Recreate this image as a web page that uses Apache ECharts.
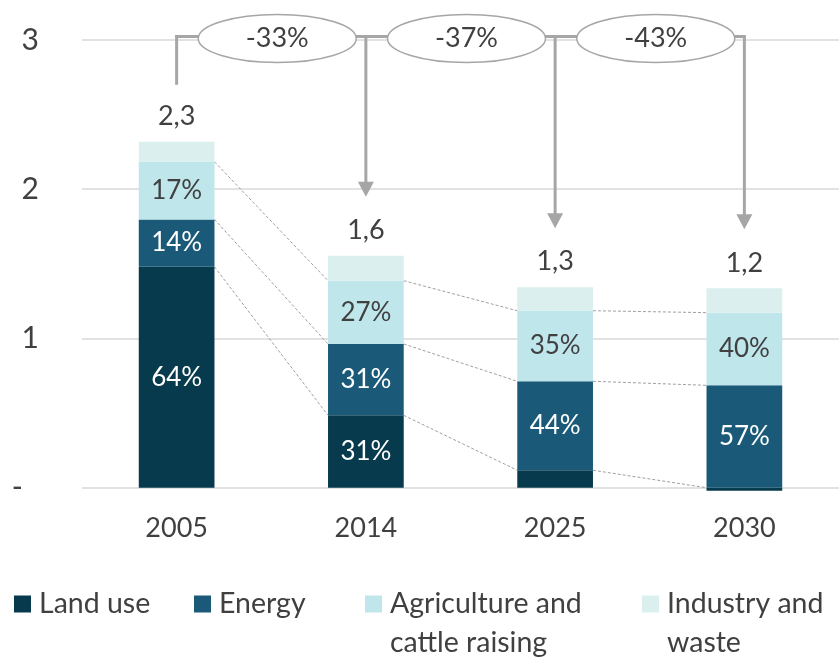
<!DOCTYPE html>
<html><head><meta charset="utf-8">
<script src="https://cdn.jsdelivr.net/npm/echarts@6/dist/echarts.min.js"></script>
<style>html,body{margin:0;padding:0;background:#fff}#c{width:839px;height:657px}</style>
</head><body><div id="c"></div>
<script>
const categories = ['2005', '2014', '2025', '2030'];
const landUse = [1.48, 0.485, 0.117, -0.02];
const energy = [0.318, 0.478, 0.596, 0.686];
const agriculture = [0.386, 0.424, 0.473, 0.487];
const industry = [0.134, 0.168, 0.157, 0.163];
const landUseLabels = ['64%', '31%', '', ''];
const energyLabels = ['14%', '31%', '44%', '57%'];
const agricultureLabels = ['17%', '27%', '35%', '40%'];
const totalLabels = ['2,3', '1,6', '1,3', '1,2'];
const changeFrom = [0, 0, 0];
const changeTo = [1, 2, 3];
const changeLabels = ['-33%', '-37%', '-43%'];
const seriesNames = ['Land use', 'Energy', 'Agriculture and cattle raising', 'Industry and waste'];
const legendTexts = ['Land use', 'Energy', 'Agriculture and\ncattle raising', 'Industry and\nwaste'];

const FONT = 'Lato';
const TXT = '#404040';
const colors = ['#073a4d', '#1a5a78', '#bfe6eb', '#daefee'];
const GRAY = '#a6a6a6';

function posTop(i) { return Math.max(landUse[i], 0) + energy[i] + agriculture[i] + industry[i]; }
function boundaries(i) {
  const l = Math.max(landUse[i], 0);
  return [l, l + energy[i], l + energy[i] + agriculture[i]];
}

const chart = echarts.init(document.getElementById('c'), null, {renderer: 'canvas'});

function barSeries(k, data, labelArr, labelColor) {
  return {
    name: seriesNames[k], type: 'bar', stack: 'total', data: data,
    barWidth: '40%', clip: false,
    itemStyle: {color: colors[k]},
    label: labelArr ? {
      show: true, position: 'inside', color: labelColor,
      fontFamily: FONT, fontSize: 26,
      formatter: p => labelArr[p.dataIndex]
    } : {show: false},
    z: 3
  };
}

const legends = [14, 194, 365, 642].map((left, k) => ({
  data: [seriesNames[k]],
  left: left,
  top: legendTexts[k].indexOf('\n') >= 0 ? 545.5 : 584.5,
  padding: 0,
  icon: 'rect', itemWidth: 17, itemHeight: 17,
  selectedMode: false,
  formatter: () => (legendTexts[k].indexOf('\n') >= 0 ? '\n' : '') + legendTexts[k],
  textStyle: {fontFamily: FONT, fontSize: 28.5, color: TXT, lineHeight: 39, padding: [0, 0, 0, 3]}
}));

const option = {
  animation: false,
  backgroundColor: '#fff',
  textStyle: {fontFamily: FONT},
  legend: legends,
  grid: {left: 82, right: 0, top: 40, bottom: 169.3, containLabel: false},
  xAxis: {
    type: 'category', data: categories,
    axisLine: {show: false}, axisTick: {show: false},
    axisLabel: {fontFamily: FONT, fontSize: 27, color: TXT, margin: 27}
  },
  yAxis: {
    type: 'value', min: 0, max: 3, interval: 1,
    axisLine: {show: false}, axisTick: {show: false},
    splitLine: {lineStyle: {color: '#e2e2e2', width: 2}},
    axisLabel: {
      fontFamily: FONT, fontSize: 30, color: TXT, margin: 43,
      formatter: v => v === 0 ? '{d|-}' : String(v),
      rich: {d: {fontFamily: FONT, fontSize: 30, color: TXT, padding: [0, 16, 0, 0]}}
    }
  },
  series: [
    {
      type: 'custom', name: 'connectors', z: 1, silent: true,
      data: [[0, 0], [1, 0], [2, 0]],
      renderItem: (params, api) => {
        const i = api.value(0);
        const band = api.size([1, 0])[0];
        const half = band * 0.4 / 2;
        const b0 = boundaries(i), b1 = boundaries(i + 1);
        const children = b0.map((v, k) => {
          const p0 = api.coord([i, v]);
          const p1 = api.coord([i + 1, b1[k]]);
          return {type: 'line', shape: {x1: p0[0] + half, y1: p0[1], x2: p1[0] - half, y2: p1[1]},
            style: {stroke: '#a0a0a0', lineWidth: 1, lineDash: [3, 2]}};
        });
        return {type: 'group', children: children};
      }
    },
    barSeries(0, landUse, landUseLabels, '#ffffff'),
    barSeries(1, energy, energyLabels, '#ffffff'),
    barSeries(2, agriculture, agricultureLabels, TXT),
    Object.assign(barSeries(3, industry, null, TXT), {
      label: {show: true, position: 'top', distance: 12, color: TXT, fontFamily: FONT, fontSize: 27,
        formatter: p => totalLabels[p.dataIndex]}
    }),
    {
      type: 'custom', name: 'changes', z: 5, silent: true, clip: false,
      data: changeTo.map((t, i) => [t, i]),
      renderItem: (params, api) => {
        const idx = api.value(1);
        const from = idx === 0 ? changeFrom[idx] : changeTo[idx - 1];
        const to = changeTo[idx];
        const level = api.coord([0, 3])[1] - 3.5;
        const xFrom = api.coord([from, 0])[0];
        const xTo = api.coord([to, 0])[0];
        const tipY = api.coord([to, posTop(to)])[1] - 59;
        const ls = {stroke: GRAY, lineWidth: 3};
        const children = [];
        if (idx === 0) {
          const stubY = api.coord([from, posTop(from)])[1] - 57;
          children.push({type: 'line', shape: {x1: xFrom, y1: stubY, x2: xFrom, y2: level - 1.5}, style: ls});
        }
        children.push({type: 'line', shape: {x1: xFrom - 1.5, y1: level, x2: xTo + 1.5, y2: level}, style: ls});
        children.push({type: 'line', shape: {x1: xTo, y1: level, x2: xTo, y2: tipY - 14}, style: ls});
        children.push({type: 'polygon', shape: {points: [[xTo - 8, tipY - 15], [xTo + 8, tipY - 15], [xTo, tipY]]},
          style: {fill: GRAY}});
        const cx = (xFrom + xTo) / 2 + 6, cy = level + 2;
        children.push({type: 'ellipse', shape: {cx: cx, cy: cy, rx: 79, ry: 24},
          style: {fill: '#fff', stroke: GRAY, lineWidth: 1.5}});
        children.push({type: 'text', style: {text: changeLabels[idx], x: cx, y: cy, align: 'center',
          verticalAlign: 'middle', fontFamily: FONT, fontSize: 27, fill: TXT}});
        return {type: 'group', children: children};
      }
    }
  ]
};
chart.setOption(option);
</script>
</body></html>
